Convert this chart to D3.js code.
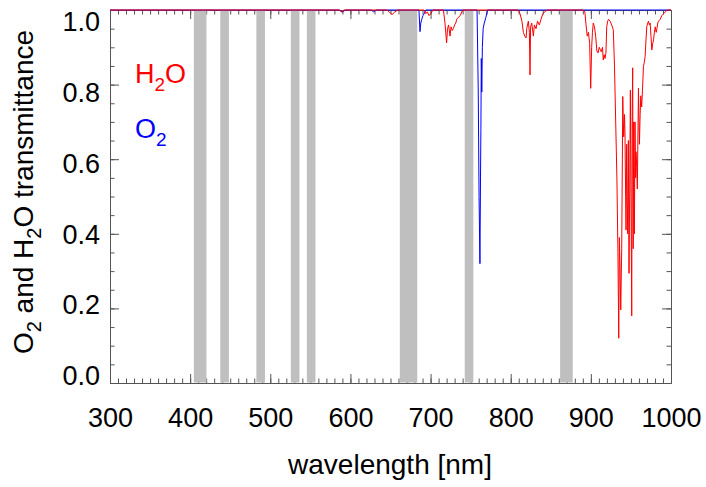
<!DOCTYPE html>
<html><head><meta charset="utf-8">
<script src="https://cdn.jsdelivr.net/npm/d3@7/dist/d3.min.js"></script>
<style>
body{margin:0;background:#fff}
text{font-family:"Liberation Sans",Arial,Helvetica,sans-serif}
</style>
</head><body>
<svg id="c" width="706" height="487"></svg>
<script>
// MODIS ocean-colour bands (grey bars), nm
const bandStart = [405, 438, 483, 526, 546, 662, 672, 743, 862];
const bandEnd   = [420, 448, 493, 536, 556, 673, 683, 753, 877];

// O2 transmittance
const o2Wl = [300, 586, 590, 594, 626, 629, 632, 685.5, 686.8, 687.8, 689, 690.5, 692, 694, 758, 759.5, 760.5, 761.6, 762.3, 762.8, 763.3, 763.9, 764.6, 765.6, 767, 769, 771, 1000];
const o2T  = [1, 1, 0.995, 1, 1, 0.995, 1, 1, 0.942, 0.965, 0.975, 0.985, 0.99, 1, 1, 0.78, 0.5, 0.32, 0.55, 0.68, 0.87, 0.78, 0.9, 0.95, 0.965, 0.98, 1, 1];

// H2O transmittance
const h2oWl = [300, 586, 589, 592, 646, 649, 652, 655, 659, 692, 694, 696, 698, 700, 703, 716, 718, 720, 721.2, 722.5, 724.3, 725.6, 727, 728.4, 730, 731.5, 732.6, 734.5, 737, 740,
  809, 811.6, 814, 815.8, 817.5, 819.2, 820, 822, 823.3, 824.1, 824.8, 826.2, 828.3, 829.5, 831.6, 833.4, 835.7, 837.8, 840, 845,
  890, 892.5, 894, 895.5, 897, 898.5, 899.8, 901, 902, 903, 904.5, 906, 907.5, 909, 910.5, 911.5, 913, 914.5, 915.5, 916.5, 917.7, 918.8, 919.8, 921, 922, 924, 926, 928,
  929.5, 931, 932.5, 933.8, 934.8, 935.6, 936.5, 937.3, 938.5, 939.3, 939.8, 940.5, 941, 942, 942.6, 943.4, 943.9, 944.7, 945.3, 946, 946.8, 947.6, 948.5, 949.3, 950.2, 951, 951.6, 952.2, 952.8, 953.5, 954.3, 955.1, 955.8, 956.4, 957.2, 958, 959.4, 960.6, 961.5, 962.3, 963.4, 964.4, 965.6, 966.7, 967.7, 968.8, 969.8, 971, 971.9, 973, 974, 975, 976.1, 977.2, 978.2, 979.3, 980.3, 981.5, 982.4, 983.5, 984.5, 986.6, 988.5, 990.8, 993, 995, 1000];
const h2oT  = [1, 1, 0.995, 1, 1, 0.993, 0.988, 0.994, 1, 1, 0.99, 0.995, 0.985, 0.99, 1, 1, 0.965, 0.912, 0.95, 0.96, 0.93, 0.955, 0.945, 0.95, 0.96, 0.965, 0.975, 0.98, 0.985, 1,
  1, 0.99, 0.97, 0.94, 0.93, 0.925, 0.95, 0.97, 0.94, 0.826, 0.955, 0.965, 0.93, 0.96, 0.95, 0.97, 0.96, 0.975, 0.99, 1,
  1, 0.995, 0.96, 0.93, 0.94, 0.91, 0.79, 0.9, 0.94, 0.965, 0.955, 0.93, 0.89, 0.885, 0.9, 0.895, 0.888, 0.9, 0.866, 0.88, 0.87, 0.885, 0.955, 0.97, 0.975, 0.97, 0.96, 0.947,
  0.85, 0.7, 0.55, 0.35, 0.12, 0.39, 0.3, 0.196, 0.36, 0.6, 0.768, 0.7, 0.66, 0.72, 0.67, 0.5, 0.41, 0.64, 0.5, 0.4, 0.65, 0.294, 0.52, 0.785, 0.46, 0.18, 0.73, 0.845, 0.36, 0.7, 0.4, 0.7, 0.55, 0.62, 0.58, 0.52, 0.79, 0.64, 0.72, 0.77, 0.74, 0.785, 0.848, 0.86, 0.875, 0.92, 0.956, 0.965, 0.97, 0.96, 0.965, 0.93, 0.893, 0.91, 0.92, 0.94, 0.955, 0.94, 0.95, 0.965, 0.97, 0.975, 0.985, 0.99, 0.995, 1, 1];

const xTickValues = [300, 400, 500, 600, 700, 800, 900, 1000];
const xMinorTicks = d3.range(300, 1001, 10);
const yTickValues = [0, 0.2, 0.4, 0.6, 0.8, 1.0];
const yMinorTicks = d3.range(0, 1.0001, 0.05);

const L = 110, R = 671, T = 10, B = 383;
const frameColor = "#555";
const svg = d3.select("#c");

const x = d3.scaleLinear().domain([300, 1000]).range([L, R]);
const y = d3.scaleLinear().domain([0, 1]).range([B, T]);
const yLab = d3.scaleLinear().domain([0, 1]).range([375, 21]);

function styleAxis(g) {
  g.selectAll("path").attr("stroke", frameColor).attr("stroke-width", 1);
  g.selectAll("line").attr("stroke", frameColor).attr("stroke-width", 1);
}

// bottom axis
const xb = svg.append("g").attr("transform", `translate(0,${B})`)
  .call(d3.axisBottom(x).tickValues(xTickValues).tickSize(-9).tickSizeOuter(0).tickFormat(d3.format("d")));
xb.selectAll("text").attr("y", 44).attr("dy", 0).attr("font-size", 27).attr("fill", "#000");
styleAxis(xb);
const xbm = svg.append("g").attr("transform", `translate(0,${B})`)
  .call(d3.axisBottom(x).tickValues(xMinorTicks).tickSize(-4.5).tickSizeOuter(0).tickFormat(""));
styleAxis(xbm);

// top axis
const xt = svg.append("g").attr("transform", `translate(0,${T})`)
  .call(d3.axisTop(x).tickValues(xTickValues).tickSize(-9).tickSizeOuter(0).tickFormat(""));
styleAxis(xt);
const xtm = svg.append("g").attr("transform", `translate(0,${T})`)
  .call(d3.axisTop(x).tickValues(xMinorTicks).tickSize(-4.5).tickSizeOuter(0).tickFormat(""));
styleAxis(xtm);

// left axis
const yl = svg.append("g").attr("transform", `translate(${L},0)`)
  .call(d3.axisLeft(y).tickValues(yTickValues).tickSize(-9).tickSizeOuter(0).tickFormat(d3.format(".1f")));
yl.selectAll("text").attr("x", -10).attr("y", (d) => yLab(d) - y(d)).attr("dy", "0.36em")
  .attr("font-size", 27).attr("fill", "#000");
styleAxis(yl);
const ylm = svg.append("g").attr("transform", `translate(${L},0)`)
  .call(d3.axisLeft(y).tickValues(yMinorTicks).tickSize(-4.5).tickSizeOuter(0).tickFormat(""));
styleAxis(ylm);

// right axis
const yr = svg.append("g").attr("transform", `translate(${R},0)`)
  .call(d3.axisRight(y).tickValues(yTickValues).tickSize(-9).tickSizeOuter(0).tickFormat(""));
styleAxis(yr);
const yrm = svg.append("g").attr("transform", `translate(${R},0)`)
  .call(d3.axisRight(y).tickValues(yMinorTicks).tickSize(-4.5).tickSizeOuter(0).tickFormat(""));
styleAxis(yrm);

// bands (drawn over the inner ticks, leaving the frame visible)
svg.append("g").selectAll("rect").data(bandStart).join("rect")
  .attr("x", (d) => x(d) - 0.3)
  .attr("width", (d, i) => x(bandEnd[i]) - x(d) + 0.6)
  .attr("y", T + 0.5).attr("height", B - T - 1)
  .attr("fill", "#bfbfbf");

// lines
const line = d3.line().x((d) => x(d[0])).y((d) => y(d[1]));
svg.append("path").datum(o2Wl.map((w, i) => [w, o2T[i]]))
  .attr("d", line).attr("fill", "none").attr("stroke", "#0000ff").attr("stroke-width", 1);
svg.append("path").datum(h2oWl.map((w, i) => [w, h2oT[i]]))
  .attr("d", line).attr("fill", "none").attr("stroke", "#ff0000").attr("stroke-width", 1);

// legend
const lg1 = svg.append("text").attr("x", 135).attr("y", 83).attr("font-size", 27).attr("fill", "#ff0000");
lg1.append("tspan").text("H");
lg1.append("tspan").attr("dy", 8).attr("font-size", 19).text("2");
lg1.append("tspan").attr("dy", -8).text("O");
const lg2 = svg.append("text").attr("x", 135).attr("y", 138).attr("font-size", 27).attr("fill", "#0000ff");
lg2.append("tspan").text("O");
lg2.append("tspan").attr("dy", 8).attr("font-size", 19).text("2");

// axis titles
svg.append("text").attr("x", 390).attr("y", 474).attr("text-anchor", "middle")
  .attr("font-size", 28).attr("fill", "#000").text("wavelength [nm]");
const yt = svg.append("text").attr("transform", "translate(33,192) rotate(-90)")
  .attr("text-anchor", "middle").attr("font-size", 28).attr("fill", "#000");
yt.append("tspan").text("O");
yt.append("tspan").attr("dy", 8).attr("font-size", 20).text("2");
yt.append("tspan").attr("dy", -8).text(" and H");
yt.append("tspan").attr("dy", 8).attr("font-size", 20).text("2");
yt.append("tspan").attr("dy", -8).text("O transmittance");
</script>
</body></html>
